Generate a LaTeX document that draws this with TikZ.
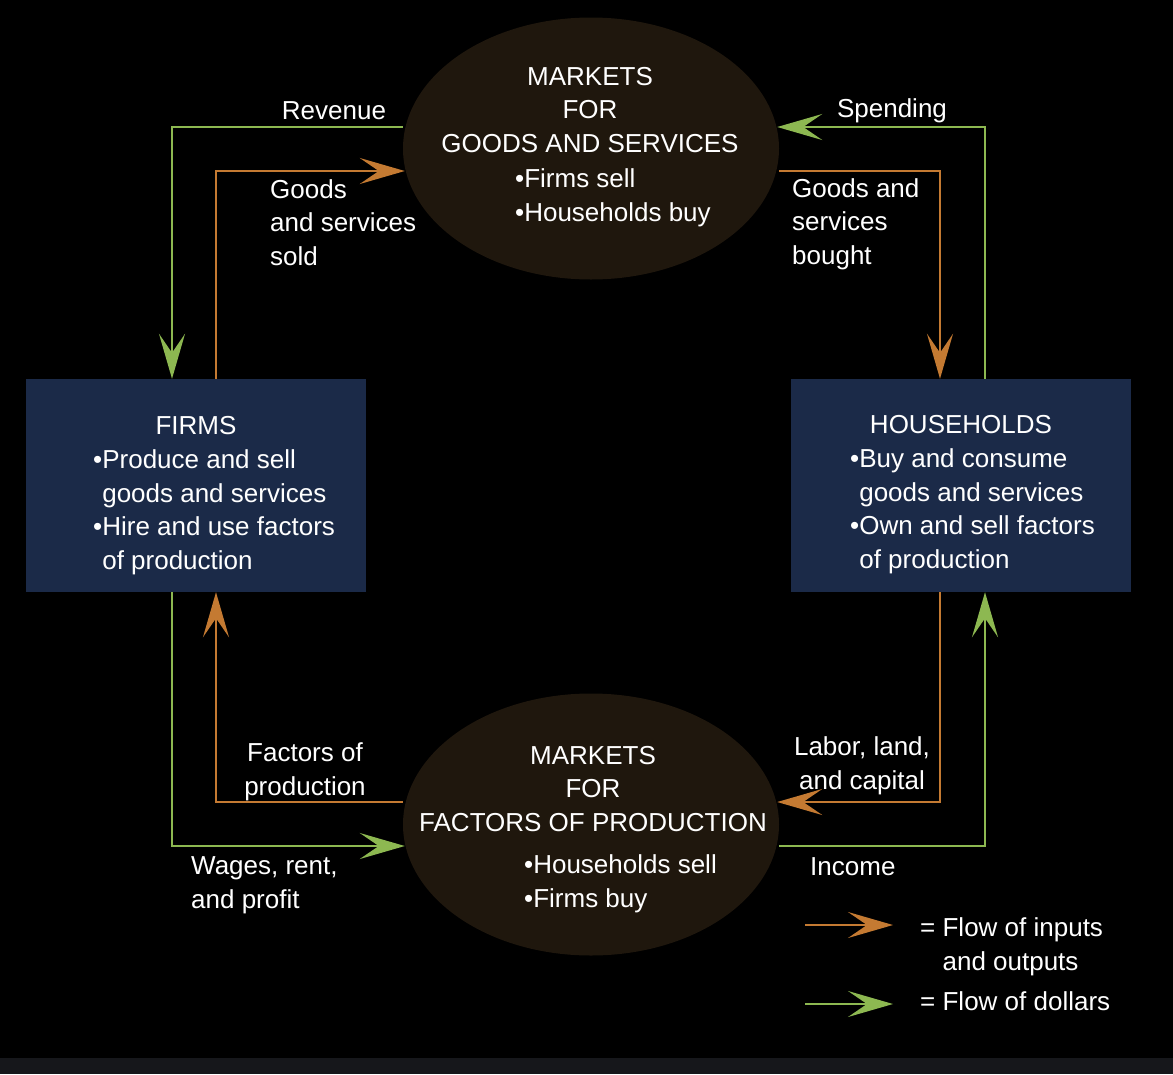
\documentclass[tikz,border=0pt]{standalone}
\usepackage{fontspec}
\setmainfont{Liberation Sans}
\usetikzlibrary{arrows.meta,shapes.geometric}
\definecolor{flowor}{HTML}{C47A32}
\definecolor{flowgr}{HTML}{8DB851}
\definecolor{boxfill}{HTML}{1B2A48}
\definecolor{mktfill}{HTML}{1F170D}
\definecolor{stripgray}{HTML}{16171B}
\pgfdeclarelayer{bg}
\pgfdeclarelayer{flows}
\pgfsetlayers{bg,flows,main}
\begin{document}
\begin{tikzpicture}[x=1pt,y=-1pt,
    mkt/.style={ellipse,fill=mktfill,minimum width=376pt,minimum height=262pt,inner sep=0pt},
    agent/.style={rectangle,fill=boxfill,minimum width=340pt,minimum height=213pt,inner sep=0pt},
    lbl/.style={text=white,inner sep=0pt,font=\fontsize{26}{33.5}\selectfont},
    goods/.style={draw=flowor,line width=2.8pt,-{Stealth[length=45pt,width=26pt,inset=19pt]}},
    money/.style={draw=flowgr,line width=2.8pt,-{Stealth[length=45pt,width=26pt,inset=19pt]}}]
  \useasboundingbox (0,0) rectangle (1173,1074);
  \begin{pgfonlayer}{bg}
    \fill[black] (0,0) rectangle (1173,1074);
    \fill[stripgray] (0,1058) rectangle (1173,1074);
  \end{pgfonlayer}
  % markets and agents
  \node[mkt] (mkg) at (591,148.5) {};
  \node[mkt] (mkf) at (591,824.5) {};
  \node[agent] (firms) at (196,485.5) {};
  \node[agent] (hh) at (961,485.5) {};
  % rows of the flows
  \coordinate (monrow) at (0,127);
  \coordinate (goodrow) at (0,171);
  \coordinate (facrow) at (0,802);
  \coordinate (incrow) at (0,846);
  % texts inside (base = last line)
  \node[lbl,align=center,anchor=base] (mkgt) at (590,152) {MARKETS\\FOR\\GOODS AND SERVICES};
  \node[lbl,align=left,anchor=base west] (mkgb) at (515,221) {•Firms sell\\•Households buy};
  \node[lbl,align=center,anchor=base] (mkft) at (593,831) {MARKETS\\FOR\\FACTORS OF PRODUCTION};
  \node[lbl,align=left,anchor=base west] (mkfb) at (524,907) {•Households sell\\•Firms buy};
  \node[lbl,anchor=base] (firmst) at (196,434) {FIRMS};
  \node[lbl,align=left,anchor=base west] (firmsb) at (93,569)
    {•Produce and sell\\\phantom{•}goods and services\\•Hire and use factors\\\phantom{•}of production};
  \node[lbl,anchor=base] (hht) at (961,433) {HOUSEHOLDS};
  \node[lbl,align=left,anchor=base west] (hhb) at (850,568)
    {•Buy and consume\\\phantom{•}goods and services\\•Own and sell factors\\\phantom{•}of production};
  % flows, behind the markets
  \begin{pgfonlayer}{flows}
    \draw[money] (mkg.west |- monrow) -| ([xshift=-24pt]firms.north);
    \draw[goods] ([xshift=20pt]firms.north) |- ([xshift=2pt]mkg.west |- goodrow);
    \draw[goods] (mkg.east |- goodrow) -| ([xshift=-21pt]hh.north);
    \draw[money] ([xshift=24pt]hh.north) |- ([xshift=-2pt]mkg.east |- monrow);
    \draw[goods] (mkf.west |- facrow) -| ([xshift=20pt]firms.south);
    \draw[money] ([xshift=-24pt]firms.south) |- ([xshift=2pt]mkf.west |- incrow);
    \draw[goods] ([xshift=-21pt]hh.south) |- ([xshift=-2pt]mkf.east |- facrow);
    \draw[money] (mkf.east |- incrow) -| ([xshift=24pt]hh.south);
  \end{pgfonlayer}
  % flow labels
  \node[lbl,anchor=base] (rev) at (334,119) {Revenue};
  \node[lbl,anchor=base] (spend) at (892,117) {Spending};
  \node[lbl,align=left,anchor=base west] (gsold) at (270,265) {Goods\\and services\\sold};
  \node[lbl,align=left,anchor=base west] (gbought) at (792,264) {Goods and\\services\\bought};
  \node[lbl,align=center,anchor=base] (fprod) at (305,795) {Factors of\\production};
  \node[lbl,align=center,anchor=base] (labor) at (862,789) {Labor, land,\\and capital};
  \node[lbl,align=left,anchor=base west] (wages) at (191,908) {Wages, rent,\\and profit};
  \node[lbl,anchor=base west] (income) at (810,875) {Income};
  % legend
  \coordinate (lgo) at (805,925);
  \coordinate (lgoe) at (893,925);
  \coordinate (lgg) at (805,1004);
  \coordinate (lgge) at (893,1004);
  \draw[goods] (lgo) -- (lgoe);
  \draw[money] (lgg) -- (lgge);
  \node[lbl,align=left,anchor=base west] (lgot) at (920,970) {= Flow of inputs\\\phantom{= }and outputs};
  \node[lbl,anchor=base west] (lggt) at (920,1010) {= Flow of dollars};
\end{tikzpicture}
\end{document}
